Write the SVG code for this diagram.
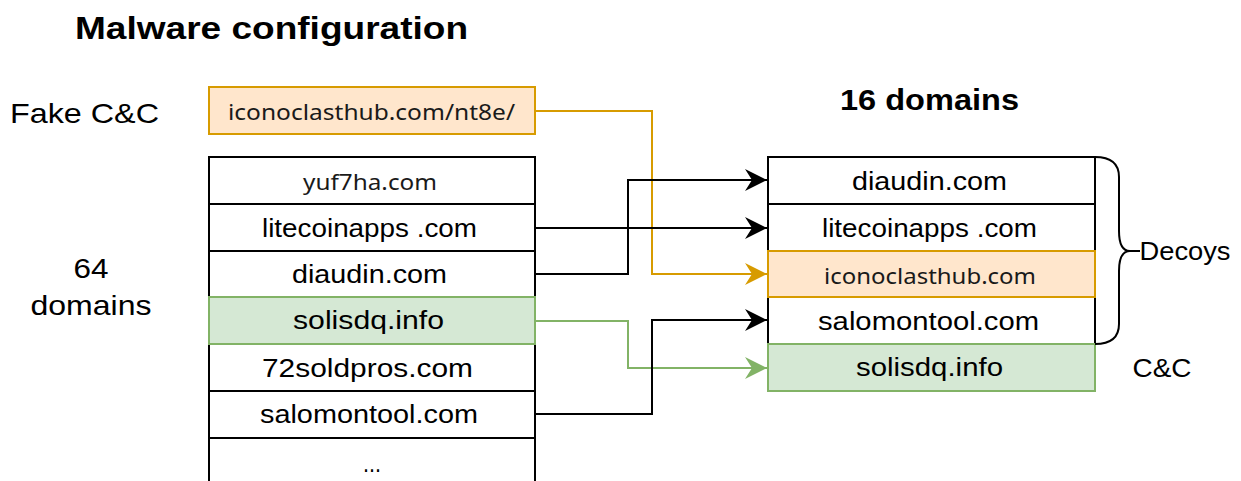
<svg xmlns="http://www.w3.org/2000/svg" width="1241" height="481" viewBox="0 0 1241 481">
<defs>
<style>
.box{fill:#ffffff;stroke:#000000;stroke-width:2}
.org{fill:#ffe6cc;stroke:#d79b00;stroke-width:2}
.grn{fill:#d5e8d4;stroke:#82b366;stroke-width:2}
.t{font-family:"Liberation Sans",Arial,sans-serif;font-size:25px;fill:#000;text-anchor:middle}
.n{font-family:"Noto Sans","Open Sans",sans-serif;font-size:22px;fill:#1a1a1a;text-anchor:middle}
.lbl{font-family:"Liberation Sans",Arial,sans-serif;font-size:28px;fill:#000}
.b{font-family:"Liberation Sans",Arial,sans-serif;font-weight:bold;fill:#000}
.ln{fill:none;stroke-width:2}
</style>
<marker id="ab" markerUnits="userSpaceOnUse" viewBox="-22 -12 24 24" refX="0" refY="0" markerWidth="24" markerHeight="24" orient="auto">
<path d="M-22,-11 L0,0 L-22,11 L-15,0 Z" fill="#000"/>
</marker>
<marker id="ao" markerUnits="userSpaceOnUse" viewBox="-22 -12 24 24" refX="0" refY="0" markerWidth="24" markerHeight="24" orient="auto">
<path d="M-22,-11 L0,0 L-22,11 L-15,0 Z" fill="#d79b00"/>
</marker>
<marker id="ag" markerUnits="userSpaceOnUse" viewBox="-22 -12 24 24" refX="0" refY="0" markerWidth="24" markerHeight="24" orient="auto">
<path d="M-22,-11 L0,0 L-22,11 L-15,0 Z" fill="#82b366"/>
</marker>
</defs>
<rect width="1241" height="481" fill="#ffffff"/>

<g id="labels">
<text class="b" x="75" y="39" font-size="31" textLength="393" lengthAdjust="spacingAndGlyphs">Malware configuration</text>
<text class="lbl" x="10" y="123" textLength="149" lengthAdjust="spacingAndGlyphs">Fake C&amp;C</text>
<text class="lbl" x="91" y="278" text-anchor="middle" textLength="35" lengthAdjust="spacingAndGlyphs">64</text>
<text class="lbl" x="91" y="315" text-anchor="middle" textLength="121" lengthAdjust="spacingAndGlyphs">domains</text>
<text class="b" x="840" y="110" font-size="30" textLength="179" lengthAdjust="spacingAndGlyphs">16 domains</text>
<text class="t" x="1185" y="260" textLength="91" lengthAdjust="spacingAndGlyphs">Decoys</text>
<text class="t" x="1162" y="377" textLength="59" lengthAdjust="spacingAndGlyphs">C&amp;C</text>
</g>

<g id="fake-cc">
<rect class="org" x="209" y="87" width="326" height="47"/>
<text class="n" x="371.5" y="120" textLength="287" lengthAdjust="spacingAndGlyphs">iconoclasthub.com/nt8e/</text>
</g>

<g id="left-list">
<g id="l-yuf7ha"><rect class="box" x="209" y="157" width="326" height="47"/><text class="n" x="370" y="190" textLength="134" lengthAdjust="spacingAndGlyphs">yuf7ha.com</text></g>
<g id="l-litecoinapps"><rect class="box" x="209" y="204" width="326" height="47"/><text class="t" x="369.5" y="237" textLength="215" lengthAdjust="spacingAndGlyphs">litecoinapps .com</text></g>
<g id="l-diaudin"><rect class="box" x="209" y="251" width="326" height="46"/><text class="t" x="369.5" y="283" textLength="155" lengthAdjust="spacingAndGlyphs">diaudin.com</text></g>
<g id="l-72soldpros"><rect class="box" x="209" y="344" width="326" height="47"/><text class="t" x="367.5" y="377" textLength="211" lengthAdjust="spacingAndGlyphs">72soldpros.com</text></g>
<g id="l-salomontool"><rect class="box" x="209" y="391" width="326" height="47"/><text class="t" x="369" y="423" textLength="218" lengthAdjust="spacingAndGlyphs">salomontool.com</text></g>
<g id="l-more"><rect class="box" x="209" y="438" width="326" height="60"/><text class="t" x="372" y="472" textLength="18" lengthAdjust="spacingAndGlyphs">...</text></g>
<g id="l-solisdq"><rect class="grn" x="209" y="297" width="326" height="47"/><text class="t" x="368.5" y="329" textLength="151" lengthAdjust="spacingAndGlyphs">solisdq.info</text></g>
</g>

<g id="right-list">
<g id="r-diaudin"><rect class="box" x="768" y="157" width="327" height="47"/><text class="t" x="929.5" y="190" textLength="155" lengthAdjust="spacingAndGlyphs">diaudin.com</text></g>
<g id="r-litecoinapps"><rect class="box" x="768" y="204" width="327" height="47"/><text class="t" x="929.5" y="237" textLength="215" lengthAdjust="spacingAndGlyphs">litecoinapps .com</text></g>
<g id="r-salomontool"><rect class="box" x="768" y="297" width="327" height="47"/><text class="t" x="928.5" y="330" textLength="221" lengthAdjust="spacingAndGlyphs">salomontool.com</text></g>
<g id="r-iconoclasthub"><rect class="org" x="768" y="251" width="327" height="46"/><text class="n" x="930" y="284" textLength="212" lengthAdjust="spacingAndGlyphs">iconoclasthub.com</text></g>
<g id="r-solisdq"><rect class="grn" x="768" y="344" width="327" height="47"/><text class="t" x="929.5" y="376" textLength="147" lengthAdjust="spacingAndGlyphs">solisdq.info</text></g>
</g>

<g id="brace">
<path class="ln" stroke="#000" d="M1095,157 Q1119,157 1119,177 L1119,231 Q1119,251 1130,251 L1140,251 M1130,251 Q1119,251 1119,271 L1119,324 Q1119,344 1095,344"/>
</g>

<g id="connectors">
<path class="ln" stroke="#d79b00" d="M535,111 L652,111 L652,274 L767,274" marker-end="url(#ao)"/>
<path class="ln" stroke="#000" d="M535,274 L628,274 L628,180 L767,180" marker-end="url(#ab)"/>
<path class="ln" stroke="#000" d="M535,228 L767,228" marker-end="url(#ab)"/>
<path class="ln" stroke="#82b366" d="M535,321 L628,321 L628,368 L767,368" marker-end="url(#ag)"/>
<path class="ln" stroke="#000" d="M535,414 L652,414 L652,320 L767,320" marker-end="url(#ab)"/>
</g>
</svg>
